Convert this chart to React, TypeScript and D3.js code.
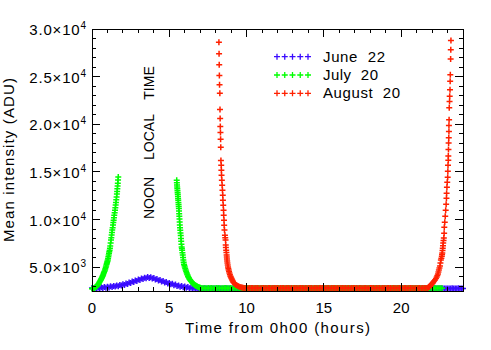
import React, { useEffect, useRef } from 'react';
import * as d3 from 'd3';

// June 22 - one sample every 0.1 h from 0h00 to 24h00 (ADU)
const juneStart = 0;
const juneStep = 0.1;
const juneValues = [
  2820, 2735, 2845, 2755, 2865, 2775, 2890, 2805, 2920, 2835,
  2950, 2870, 2990, 2910, 3035, 2960, 3085, 3010, 3140, 3070,
  3200, 3140, 3280, 3230, 3380, 3340, 3500, 3450, 3610, 3560,
  3710, 3660, 3810, 3760, 3900, 3840, 3970, 3870, 3940, 3800,
  3860, 3710, 3760, 3610, 3660, 3500, 3550, 3400, 3450, 3300,
  3350, 3200, 3250, 3110, 3170, 3030, 3090, 2950, 3020, 2890,
  2960, 2830, 2910, 2790, 2870, 2750, 2840, 2740, 2820, 2740,
  2760, 2770, 2760, 2780, 2770, 2760, 2770, 2780, 2760, 2770,
  2770, 2760, 2780, 2770, 2760, 2770, 2760, 2780, 2770, 2760,
  2760, 2770, 2780, 2760, 2770, 2770, 2760, 2780, 2760, 2770,
  2770, 2760, 2770, 2780, 2760, 2770, 2780, 2760, 2770, 2760,
  2760, 2780, 2770, 2760, 2770, 2760, 2770, 2780, 2770, 2760,
  2770, 2760, 2760, 2780, 2770, 2770, 2760, 2770, 2780, 2760,
  2760, 2770, 2780, 2770, 2760, 2760, 2770, 2780, 2760, 2770,
  2770, 2780, 2760, 2770, 2760, 2770, 2780, 2760, 2770, 2760,
  2760, 2770, 2760, 2780, 2770, 2760, 2770, 2780, 2770, 2760,
  2770, 2760, 2780, 2760, 2770, 2780, 2760, 2770, 2760, 2770,
  2760, 2770, 2780, 2770, 2760, 2770, 2760, 2780, 2770, 2760,
  2770, 2760, 2770, 2780, 2760, 2770, 2770, 2760, 2780, 2770,
  2760, 2780, 2770, 2760, 2770, 2760, 2780, 2770, 2760, 2770,
  2770, 2760, 2770, 2780, 2770, 2760, 2770, 2780, 2760, 2770,
  2760, 2770, 2780, 2760, 2770, 2770, 2760, 2780, 2770, 2760,
  2770, 2760, 2780, 2770, 2760, 2770, 2780, 2760, 2770, 2760,
  2760, 2770, 2760, 2780, 2770, 2760, 2770, 2780, 2770, 2760,
  2770,
];

// July 20 - [hour, ADU]
const julyMorning = [
  [0.0, 2730], [0.05, 2760], [0.1, 2790], [0.15, 2820], [0.2, 2860],
  [0.25, 2920], [0.3, 2980], [0.35, 3070], [0.38, 3150], [0.41, 3230],
  [0.44, 3300], [0.47, 3380], [0.5, 3470], [0.53, 3560], [0.555, 3630],
  [0.58, 3710], [0.605, 3780], [0.63, 3860], [0.655, 3950], [0.68, 4040],
  [0.705, 4140], [0.73, 4240], [0.755, 4350], [0.78, 4460], [0.81, 4580],
  [0.84, 4700], [0.865, 4840], [0.89, 4980], [0.915, 5120], [0.94, 5270],
  [0.96, 5390], [0.98, 5520], [1.0, 5630], [1.02, 5750], [1.04, 5920],
  [1.06, 6100], [1.08, 6270], [1.1, 6450], [1.12, 6620], [1.14, 6790],
  [1.16, 7000], [1.18, 7220], [1.205, 7530], [1.23, 7840], [1.25, 8100],
  [1.27, 8370], [1.29, 8630], [1.31, 8890], [1.335, 9150], [1.36, 9420],
  [1.38, 9680], [1.4, 9930], [1.42, 10200], [1.44, 10460], [1.465, 10720],
  [1.49, 10980], [1.51, 11250], [1.53, 11520], [1.55, 11800], [1.57, 12070],
  [1.59, 12370], [1.61, 12670], [1.625, 12950], [1.64, 13220], [1.655, 13520],
  [1.67, 13820], [1.685, 14150], [1.7, 14470],
];
const julyAfternoon = [
  [5.48, 14120], [5.49, 13870], [5.5, 13620], [5.51, 13420], [5.52, 13220],
  [5.53, 13020], [5.54, 12820], [5.55, 12620], [5.56, 12420], [5.57, 12220],
  [5.58, 12020], [5.59, 11800], [5.6, 11570], [5.61, 11370], [5.62, 11170],
  [5.63, 10900], [5.64, 10620], [5.65, 10350], [5.66, 10070], [5.67, 9750],
  [5.68, 9420], [5.695, 9150], [5.71, 8870], [5.725, 8600], [5.74, 8320],
  [5.755, 8020], [5.77, 7720], [5.785, 7420], [5.8, 7120], [5.815, 6950],
  [5.83, 6770], [5.85, 6520], [5.87, 6270], [5.89, 6010], [5.91, 5750],
  [5.93, 5530], [5.95, 5320], [5.975, 5170], [6.0, 5020], [6.03, 4860],
  [6.06, 4700], [6.09, 4560], [6.12, 4420], [6.15, 4290], [6.18, 4170],
  [6.21, 4060], [6.24, 3950], [6.27, 3860], [6.3, 3770], [6.335, 3690],
  [6.37, 3610], [6.41, 3520], [6.45, 3440], [6.49, 3370], [6.53, 3300],
  [6.57, 3240], [6.61, 3180], [6.65, 3130], [6.69, 3090], [6.73, 3050],
  [6.77, 3020], [6.815, 2970], [6.86, 2930], [6.905, 2900], [6.95, 2870],
  [7.0, 2840], [7.05, 2820],
];
// July 20 night baseline, one sample every 0.1 h from 7.15 h
const julyNightStart = 7.15;
const julyNightStep = 0.1;
const julyNight = [
  2800, 2810, 2800, 2790, 2810, 2800, 2820, 2800, 2790, 2810,
  2810, 2800, 2790, 2800, 2820, 2810, 2800, 2790, 2810, 2800,
  2800, 2790, 2810, 2800, 2810, 2820, 2800, 2810, 2790, 2800,
  2810, 2800, 2800, 2790, 2810, 2800, 2820, 2800, 2810, 2790,
  2800, 2810, 2790, 2800, 2820, 2800, 2810, 2800, 2790, 2810,
  2790, 2800, 2810, 2800, 2800, 2810, 2820, 2790, 2800, 2810,
  2800, 2810, 2800, 2790, 2810, 2800, 2800, 2810, 2790, 2800,
  2810, 2790, 2800, 2810, 2800, 2820, 2800, 2790, 2810, 2800,
  2800, 2810, 2790, 2800, 2810, 2800, 2810, 2800, 2820, 2790,
  2810, 2800, 2800, 2790, 2810, 2820, 2800, 2810, 2800, 2790,
  2800, 2790, 2810, 2800, 2800, 2810, 2790, 2800, 2810, 2820,
  2790, 2800, 2810, 2800, 2820, 2800, 2790, 2810, 2800, 2800,
  2810, 2800, 2790, 2810, 2800, 2800, 2820, 2810, 2790, 2800,
  2800, 2810, 2800, 2790, 2810, 2800, 2810, 2800, 2790, 2810,
  2790, 2800, 2820, 2800, 2810, 2790, 2800, 2810, 2800, 2800,
  2810, 2790, 2800, 2810, 2800, 2790,
];

// August 20 - [hour, ADU]
const augustMorning = [
  [8.21, 28600], [8.22, 27400], [8.23, 26250], [8.24, 25130], [8.25, 24160],
  [8.27, 23250], [8.28, 21540], [8.29, 20600], [8.3, 19760], [8.31, 19130],
  [8.32, 18430], [8.33, 17590], [8.34, 16200], [8.36, 15690], [8.37, 15170],
  [8.38, 14650], [8.4, 14120], [8.42, 13600], [8.44, 13070], [8.46, 12550],
  [8.47, 12030], [8.49, 11500], [8.51, 10980], [8.52, 10460], [8.54, 9930],
  [8.55, 9410], [8.57, 8890], [8.6, 8360], [8.62, 8100], [8.64, 7840],
  [8.65, 7320], [8.66, 7060], [8.68, 6790], [8.695, 6530], [8.71, 6270],
  [8.72, 6060], [8.73, 5850], [8.745, 5640], [8.76, 5430], [8.78, 5220],
  [8.8, 5010], [8.82, 4850], [8.84, 4700], [8.865, 4540], [8.89, 4380],
  [8.92, 4220], [8.95, 4070], [8.98, 3960], [9.01, 3860], [9.04, 3750],
  [9.07, 3650], [9.1, 3540], [9.13, 3440], [9.175, 3360], [9.22, 3290],
  [9.265, 3210], [9.31, 3130], [9.375, 3070], [9.44, 3020], [9.5, 2970],
  [9.57, 2920], [9.635, 2890], [9.7, 2870], [9.765, 2840], [9.83, 2810],
];
// August 20 night baseline, one sample every 0.1 h from 9.9 h
const augustNightStart = 9.9;
const augustNightStep = 0.1;
const augustNight = [
  2810, 2820, 2800, 2810, 2820, 2810, 2800, 2820, 2810, 2800,
  2800, 2810, 2820, 2810, 2800, 2810, 2820, 2800, 2810, 2810,
  2820, 2810, 2800, 2810, 2810, 2820, 2800, 2810, 2820, 2800,
  2810, 2800, 2820, 2810, 2800, 2810, 2810, 2820, 2800, 2810,
  2800, 2820, 2810, 2810, 2800, 2820, 2810, 2800, 2810, 2820,
  2810, 2810, 2800, 2820, 2810, 2800, 2810, 2820, 2810, 2800,
  2820, 2800, 2810, 2810, 2820, 2810, 2800, 2810, 2800, 2820,
  2810, 2820, 2810, 2800, 2810, 2820, 2800, 2810, 2810, 2800,
  2800, 2810, 2820, 2810, 2800, 2810, 2820, 2810, 2800, 2810,
  2810, 2800, 2810, 2820, 2810, 2800, 2820, 2810, 2800, 2810,
  2820, 2810, 2800, 2810, 2820, 2800, 2810, 2810, 2820, 2800,
  2810, 2800, 2820, 2810, 2800, 2810, 2820, 2810,
];
const augustEvening = [
  [21.7, 2810], [21.75, 2860], [21.8, 2920], [21.83, 2970], [21.86, 3020],
  [21.9, 3070], [21.93, 3130], [21.97, 3210], [22.02, 3290], [22.05, 3360],
  [22.08, 3440], [22.13, 3540], [22.19, 3650], [22.25, 3800], [22.3, 3970],
  [22.34, 4120], [22.38, 4280], [22.41, 4490], [22.44, 4700], [22.475, 4910],
  [22.51, 5120], [22.54, 5430], [22.57, 5750], [22.6, 5950], [22.63, 6160],
  [22.645, 6320], [22.66, 6480], [22.675, 6740], [22.69, 7000], [22.705, 7260],
  [22.72, 7530], [22.74, 7790], [22.76, 8050], [22.78, 8570], [22.79, 9200],
  [22.82, 9720], [22.85, 10350], [22.88, 10980], [22.91, 11610], [22.93, 12240],
  [22.94, 12760], [22.96, 13390], [22.98, 13910], [23.01, 14440], [23.02, 15060],
  [23.03, 15690], [23.05, 16220], [23.05, 16670], [23.06, 17340], [23.07, 18030],
  [23.08, 18590], [23.09, 19250], [23.09, 19880], [23.1, 20480], [23.11, 21730],
  [23.13, 22390], [23.14, 22950], [23.16, 23620], [23.17, 24520], [23.18, 25190],
  [23.2, 26860], [23.21, 27810], [23.22, 28780],
];

const seriesNames = ['June  22', 'July  20', 'August  20'];
const seriesColors = ['#3a0cff', '#00ff00', '#ff2000'];
const xTicks = [0, 5, 10, 15, 20];
const yTicks = [5000, 10000, 15000, 20000, 25000, 30000];
const noonWords = ['NOON', 'LOCAL', 'TIME'];

const sampled = (start: number, step: number, values: number[]) =>
  values.map((v, i) => [start + i * step, v]);

function App() {
  const d3Container = useRef<SVGSVGElement>(null);

  useEffect(() => {
    if (!d3Container.current) return;
    const width = 491;
    const height = 350;
    const font = "'Liberation Sans', Arial, sans-serif";

    const series = [
      sampled(juneStart, juneStep, juneValues),
      [...julyMorning, ...julyAfternoon, ...sampled(julyNightStart, julyNightStep, julyNight)],
      [...augustMorning, ...sampled(augustNightStart, augustNightStep, augustNight), ...augustEvening],
    ];

    const svg = d3.select(d3Container.current);
    svg.selectAll('*').remove();
    svg.attr('width', width).attr('height', height);

    svg.append('rect').attr('width', width).attr('height', height).attr('fill', '#fff');

    const x = d3.scaleLinear().domain([0, 24]).range([92, 463]);
    const y = d3.scaleLinear().domain([2500, 30000]).range([291, 29]);

    const plus = 'M-3,0H3M0,-3V3';

    // data
    series.forEach((pts, k) => {
      svg.append('g')
        .selectAll('path')
        .data(pts)
        .join('path')
        .attr('d', plus)
        .attr('transform', (d) => `translate(${x(d[0])},${y(d[1])})`)
        .attr('stroke', seriesColors[k])
        .attr('stroke-width', 1.5)
        .attr('fill', 'none');
    });

    // frame and inward ticks on all four sides
    const axes = svg.append('g').attr('stroke', '#000').attr('stroke-width', 1).attr('shape-rendering', 'crispEdges');
    const [x0, x1] = x.range();
    const [y0, y1] = y.range();
    axes.append('rect')
      .attr('x', x0).attr('y', y1)
      .attr('width', x1 - x0).attr('height', y0 - y1)
      .attr('fill', 'none');

    const xMinor = d3.range(1, 24).filter((h) => h % 5 !== 0);
    const yMinor = d3.range(3000, 30000, 1000).filter((v) => v % 5000 !== 0);

    const xTickLines = [
      ...xTicks.map((t) => ({ v: t, len: 8 })),
      ...xMinor.map((t) => ({ v: t, len: 4 })),
    ];
    xTickLines.forEach(({ v, len }) => {
      axes.append('line').attr('x1', x(v)).attr('x2', x(v)).attr('y1', y0).attr('y2', y0 - len);
      axes.append('line').attr('x1', x(v)).attr('x2', x(v)).attr('y1', y1).attr('y2', y1 + len);
    });
    const yTickLines = [
      ...yTicks.map((t) => ({ v: t, len: 8 })),
      ...yMinor.map((t) => ({ v: t, len: 4 })),
    ];
    yTickLines.forEach(({ v, len }) => {
      axes.append('line').attr('y1', y(v)).attr('y2', y(v)).attr('x1', x0).attr('x2', x0 + len);
      axes.append('line').attr('y1', y(v)).attr('y2', y(v)).attr('x1', x1).attr('x2', x1 - len);
    });

    // tick labels
    svg.append('g')
      .selectAll('text')
      .data(xTicks)
      .join('text')
      .attr('x', (d) => x(d))
      .attr('y', 313)
      .attr('text-anchor', 'middle')
      .attr('font-family', font)
      .attr('font-size', 15)
      .text((d) => String(d));

    const yLabels = svg.append('g');
    yTicks.forEach((v) => {
      const exp = Math.floor(Math.log10(v));
      const mant = (v / Math.pow(10, exp)).toFixed(1);
      const t = yLabels.append('text')
        .attr('x', 86)
        .attr('y', y(v) + 6)
        .attr('text-anchor', 'end')
        .attr('font-family', font)
        .attr('font-size', 15)
        .attr('letter-spacing', 0.8);
      t.append('tspan').text(`${mant}\u00d710`);
      t.append('tspan').attr('dy', -6).attr('font-size', 10).attr('letter-spacing', 0).text(String(exp));
    });

    // axis titles
    svg.append('text')
      .attr('x', (x0 + x1) / 2)
      .attr('y', 333)
      .attr('text-anchor', 'middle')
      .attr('font-family', font)
      .attr('font-size', 15)
      .attr('textLength', 185)
      .text('Time from 0h00 (hours)');

    svg.append('text')
      .attr('transform', `translate(14,${(y0 + y1) / 2}) rotate(-90)`)
      .attr('text-anchor', 'middle')
      .attr('font-family', font)
      .attr('font-size', 15)
      .attr('textLength', 164)
      .text('Mean intensity (ADU)');

    // NOON LOCAL TIME annotation
    const noonY = [198, 137, 83];
    noonWords.forEach((w, i) => {
      svg.append('text')
        .attr('transform', `translate(154,${noonY[i]}) rotate(-90)`)
        .attr('text-anchor', 'middle')
        .attr('font-family', font)
        .attr('font-size', 14)
        .text(w);
    });

    // legend
    const legendWidths = [62, 55, 77];
    seriesNames.forEach((name, k) => {
      const rowY = 56.7 + k * 18.3;
      const g = svg.append('g');
      d3.range(5).forEach((j) => {
        g.append('path')
          .attr('d', plus)
          .attr('transform', `translate(${277 + j * 7.75},${rowY})`)
          .attr('stroke', seriesColors[k])
          .attr('stroke-width', 1.3);
      });
      g.append('text')
        .attr('x', 323)
        .attr('y', rowY + 4.8)
        .attr('font-family', font)
        .attr('font-size', 15)
        .attr('textLength', legendWidths[k])
        .style('white-space', 'pre')
        .text(name);
    });
  }, []);

  return (
    <svg ref={d3Container} style={{ position: 'absolute', left: 0, top: 0 }} />
  );
}

export default App;
